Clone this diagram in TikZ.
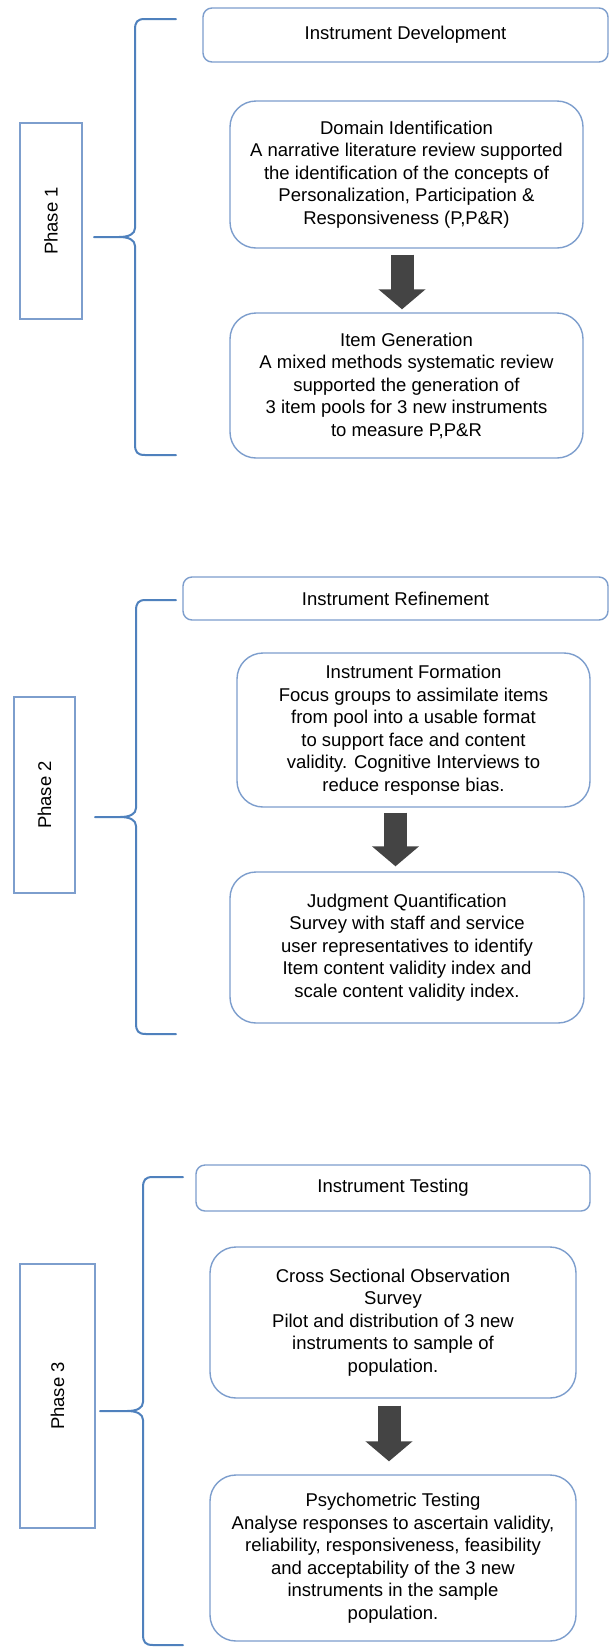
\documentclass[tikz,border=0pt]{standalone}
\usepackage{fontspec}
\setmainfont{Liberation Sans}
\usetikzlibrary{arrows.meta,calc}
\definecolor{brblue}{RGB}{79,129,189}
\definecolor{boxblue}{RGB}{125,158,205}
\definecolor{arrowgray}{RGB}{68,68,68}
\newcommand\phasebrace[5]{%
  \pgfmathsetmacro\ymid{(#2+#3)/2}%
  \draw[bracestyle] (#5,#2) -- ({#1+10},#2) .. controls ({#1+2},#2) and (#1,{#2+3}) .. (#1,{#2+11})
    -- (#1,{\ymid-9}) .. controls (#1,{\ymid-3}) and ({#1-6},\ymid) .. ({#1-16},\ymid) -- (#4,\ymid)
    -- ({#1-16},\ymid) .. controls ({#1-6},\ymid) and (#1,{\ymid+3}) .. (#1,{\ymid+9})
    -- (#1,{#3-11}) .. controls (#1,{#3-3}) and ({#1+2},#3) .. ({#1+10},#3) -- (#5,#3);}
\begin{document}
\begin{tikzpicture}[x=1pt,y=-1pt,
  txt/.style={font=\fontsize{18.5}{22.5}\selectfont, align=center, text=black},
  headbox/.style={txt, draw=boxblue, line width=1.4pt, rounded corners=9pt, inner sep=0pt},
  stepbox/.style={txt, draw=boxblue, line width=1.4pt, rounded corners=26pt, inner sep=0pt},
  phasebox/.style={txt, draw=boxblue, line width=1.4pt, rotate=90, inner sep=0pt},
  bracestyle/.style={draw=brblue, line width=2pt, line cap=round, line join=round},
  blockarrow/.style={draw=arrowgray, line width=23pt, -{Triangle[width=46pt,length=20pt]}}]
\useasboundingbox (0,0) rectangle (610,1647);
\fill[white] (0,0) rectangle (610,1647);

% ---------- Phase 1 ----------
\node[phasebox, minimum width=196pt, minimum height=62pt] (ph1) at (51,221) {Phase 1};
\node[headbox, minimum width=405pt, minimum height=54pt] (dev) at (405.5,35) {Instrument Development};
\node[stepbox, minimum width=353pt, minimum height=147pt] (dom) at (406.5,174.5)
  {Domain Identification\\A narrative literature review supported\\the identification of the concepts of\\Personalization, Participation \&\\Responsiveness (P,P\&R)};
\node[stepbox, minimum width=353pt, minimum height=145pt] (itm) at (406.5,385.5)
  {Item Generation\\A mixed methods systematic review\\supported the generation of\\3 item pools for 3 new instruments\\to measure P,P\&R};
\coordinate (ax1) at (402,0);
\draw[blockarrow] ($(dom.south -| ax1)+(0,6)$) -- ($(itm.north -| ax1)+(0,-3)$);
\phasebrace{135}{19}{455}{94}{176}

% ---------- Phase 2 ----------
\node[phasebox, minimum width=196pt, minimum height=61pt] (ph2) at (44.5,795) {Phase 2};
\node[headbox, minimum width=425pt, minimum height=43pt] (ref) at (395.5,598.5) {Instrument Refinement};
\node[stepbox, minimum width=353pt, minimum height=154pt] (frm) at (413.5,730)
  {Instrument Formation\\Focus groups to assimilate items\\from pool into a usable format\\to support face and content\\validity. Cognitive Interviews to\\reduce response bias.};
\node[stepbox, minimum width=354pt, minimum height=151pt] (jdg) at (407,947.5)
  {Judgment Quantification\\Survey with staff and service\\user representatives to identify\\Item content validity index and\\scale content validity index.};
\coordinate (ax2) at (395.5,0);
\draw[blockarrow] ($(frm.south -| ax2)+(0,5)$) -- ($(jdg.north -| ax2)+(0,-5)$);
\phasebrace{136}{600}{1034}{95}{176}

% ---------- Phase 3 ----------
\node[phasebox, minimum width=264pt, minimum height=75pt] (ph3) at (57.5,1396) {Phase 3};
\node[headbox, minimum width=394pt, minimum height=46pt] (tst) at (393,1188) {Instrument Testing};
\node[stepbox, minimum width=366pt, minimum height=151pt] (crs) at (393,1322.5)
  {Cross Sectional Observation\\Survey\\Pilot and distribution of 3 new\\instruments to sample of\\population.};
\node[stepbox, minimum width=366pt, minimum height=166pt] (psy) at (393,1558)
  {Psychometric Testing\\Analyse responses to ascertain validity,\\reliability, responsiveness, feasibility\\and acceptability of the 3 new\\instruments in the sample\\population.};
\coordinate (ax3) at (389,0);
\draw[blockarrow] ($(crs.south -| ax3)+(0,7)$) -- ($(psy.north -| ax3)+(0,-13)$);
\phasebrace{143}{1177}{1645}{100}{183}
\end{tikzpicture}
\end{document}
